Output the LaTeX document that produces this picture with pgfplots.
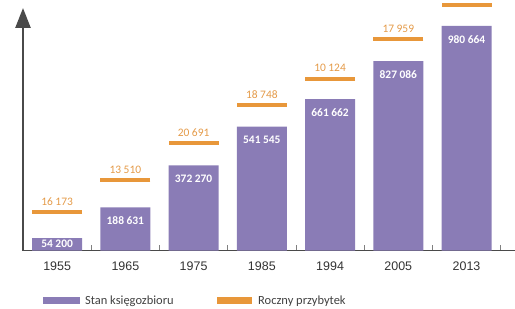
\documentclass[border=0pt]{standalone}
\usepackage{pgfplots}
\pgfplotsset{compat=1.18}
\usepackage{pgfplotstable}
\usepackage{fontspec}
\setmainfont{Carlito}
\newfontfamily\arialfont{Liberation Sans}
\usetikzlibrary{arrows.meta}
\definecolor{purp}{HTML}{8A7CB6}
\definecolor{orng}{HTML}{E8973A}
\definecolor{orngtxt}{HTML}{E49A48}
\definecolor{axgray}{HTML}{4A4A4A}
\newcommand{\yr}[1]{\mbox{\arialfont\fontsize{12.5}{14}\selectfont #1}}

\pgfplotstableread{
x y dy
0 54200 1.3
1 188631 -5.7
2 372270 -5.7
3 541545 -5.7
4 661662 -5.7
5 827086 -5.7
6 980664 -5.7
}\bars

\pgfplotstableread{
x pos val
0 166900 16173
1 308000 13510
2 468300 20691
3 635600 18748
4 750500 10124
5 922600 17959
}\przyrost

\begin{document}
\begin{tikzpicture}
\begin{axis}[
  scale only axis, width=492bp, height=250.5bp,
  xmin=-0.5, xmax=6.71, ymin=0, ymax=1094200,
  axis x line=bottom, axis y line=none,
  axis line style={-, line width=1bp, color=axgray},
  xtick={0,...,6},
  xticklabels={\yr{1955},\yr{1965},\yr{1975},\yr{1985},\yr{1994},\yr{2005},\yr{2013}},
  ytick=\empty,
  major tick length=0pt,
  minor xtick={0.5,1.5,2.5,3.5,4.5,5.5,6.5},
  minor tick length=6bp, tick align=inside,
  every minor tick/.style={line width=0.8bp, color=gray},
  xticklabel style={text=black!80, yshift=-8bp},
  /pgf/number format/.cd, assume math mode=true, fixed, precision=0, 1000 sep={\hspace{0.22em}},
  /pgfplots/.cd,
  clip=false,
]
\addplot[ybar, bar width=50bp, bar shift=0pt, fill=purp, draw=none,
  nodes near coords,
  visualization depends on={\thisrow{dy} \as \dy},
  every node near coord/.append style={anchor=north, yshift=\dy bp,
    font=\bfseries\fontsize{11.5}{13}\selectfont, text=white}]
  table[x=x, y=y] {\bars};
\addplot[only marks, mark=-, mark size=25bp,
  mark options={line width=4.3bp, color=orng},
  point meta=explicit,
  nodes near coords,
  every node near coord/.append style={anchor=center, yshift=10.5bp,
    font=\fontsize{11.5}{13}\selectfont, text=orngtxt}]
  table[x=x, y=pos, meta=val] {\przyrost};
\addplot[only marks, mark=-, mark size=25bp,
  mark options={line width=4.3bp, color=orng}]
  coordinates {(6,1072400)};
\draw[line width=2.5bp, color=axgray, -{Triangle[length=20bp,width=15bp]}]
  (axis cs:-0.5,0) -- (axis cs:-0.5,1059300);
\end{axis}
\fill[purp] ([xshift=19.7bp,yshift=-46.8bp]current axis.south west) rectangle ++(37.3bp,-7bp);
\node[anchor=base west, inner sep=0pt, font=\fontsize{12.5}{14}\selectfont, text=black!75]
  at ([xshift=62bp,yshift=-54bp]current axis.south west) {Stan księgozbioru};
\fill[orng] ([xshift=193.7bp,yshift=-46.8bp]current axis.south west) rectangle ++(35bp,-7bp);
\node[anchor=base west, inner sep=0pt, font=\fontsize{12.5}{14}\selectfont, text=black!75]
  at ([xshift=235bp,yshift=-54bp]current axis.south west) {Roczny przybytek};
\pgfresetboundingbox
\path[use as bounding box] ([xshift=-23bp,yshift=-57.5bp]current axis.south west) rectangle (current axis.north east);
\end{tikzpicture}
\end{document}
